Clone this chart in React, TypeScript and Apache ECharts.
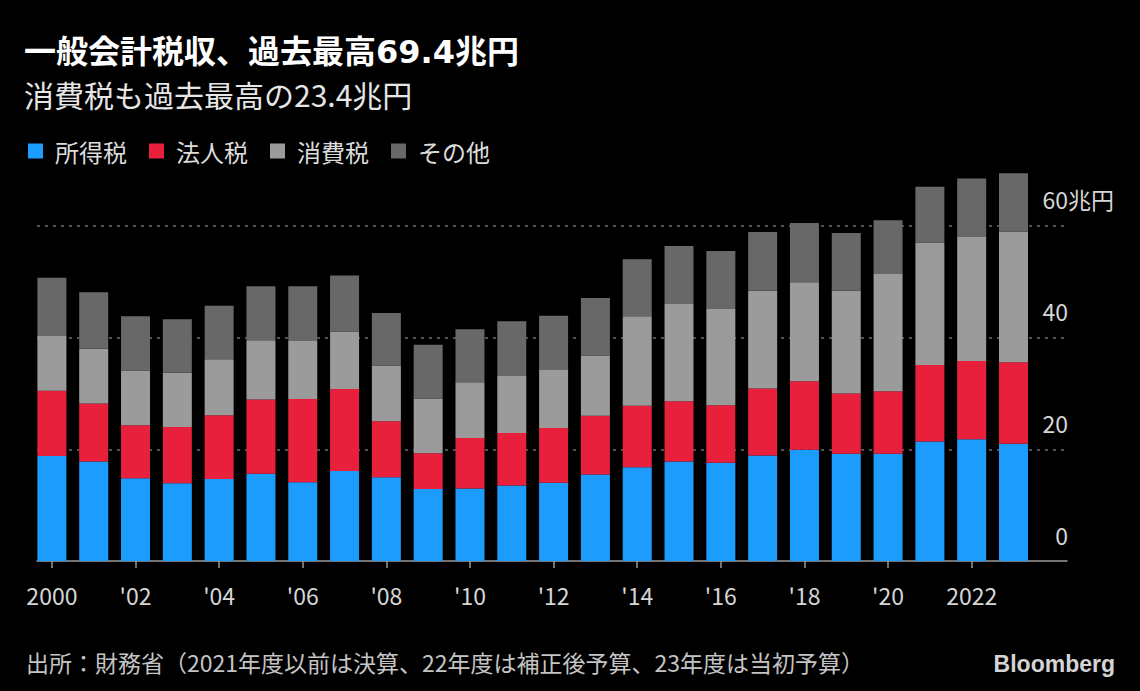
import React, { useEffect, useRef } from "react";
import * as echarts from "echarts";

const years = [
  "2000", "2001", "2002", "2003", "2004", "2005", "2006", "2007", "2008", "2009", "2010", "2011",
  "2012", "2013", "2014", "2015", "2016", "2017", "2018", "2019", "2020", "2021", "2022", "2023",
];
const incomeTax = [18.8, 17.8, 14.8, 13.9, 14.7, 15.6, 14.1, 16.1, 15.0, 12.9, 13.0, 13.5, 14.0, 15.5, 16.8, 17.8, 17.6, 18.9, 19.9, 19.2, 19.2, 21.4, 21.8, 21.0];
const corpTax = [11.7, 10.4, 9.5, 10.1, 11.4, 13.3, 14.9, 14.7, 10.0, 6.4, 9.0, 9.4, 9.8, 10.5, 11.0, 10.8, 10.3, 12.0, 12.3, 10.8, 11.2, 13.7, 14.0, 14.6];
const consumptionTax = [9.8, 9.8, 9.8, 9.7, 10.0, 10.6, 10.4, 10.3, 10.0, 9.8, 10.0, 10.2, 10.4, 10.8, 16.0, 17.4, 17.2, 17.5, 17.7, 18.4, 21.0, 21.9, 22.2, 23.4];
const otherTax = [10.4, 10.1, 9.7, 9.6, 9.6, 9.7, 9.8, 10.0, 9.4, 9.6, 9.5, 9.8, 9.7, 10.3, 10.2, 10.4, 10.4, 10.5, 10.6, 10.3, 9.6, 10.0, 10.5, 10.4];

const seriesNames = ["所得税", "法人税", "消費税", "その他"];
const seriesColors = ["#1c9cfd", "#e8203c", "#9b9b9b", "#686868"];

const tickYears = ["2000", "2002", "2004", "2006", "2008", "2010", "2012", "2014", "2016", "2018", "2020", "2022"];
const tickLabels = ["2000", "'02", "'04", "'06", "'08", "'10", "'12", "'14", "'16", "'18", "'20", "2022"];
const yUnitTick = 60;
const yUnit = "兆円";

const titleText = "一般会計税収、過去最高69.4兆円";
const subtitleText = "消費税も過去最高の23.4兆円";
const sourceText = "出所：財務省（2021年度以前は決算、22年度は補正後予算、23年度は当初予算）";

const CJK = "'Noto Sans CJK JP', 'Noto Sans', sans-serif";

export default function App() {
  const ref = useRef<HTMLDivElement>(null);

  useEffect(() => {
    document.body.style.margin = "0";
    document.body.style.background = "#000";
    const chart = echarts.init(ref.current as HTMLDivElement, null, { renderer: "svg" });
    const allSeries = [incomeTax, corpTax, consumptionTax, otherTax];

    const yLabelCommon = {
      inside: true,
      verticalAlign: "bottom",
      padding: [0, 0, 15, 0],
      showMaxLabel: false,
      color: "#d6d6d6",
      fontSize: 23,
      fontFamily: CJK,
    };
    const top = 170;
    const bottom = 130;

    chart.setOption({
      animation: false,
      backgroundColor: "#000",
      title: [
        {
          text: titleText,
          left: 24,
          top: 36,
          padding: 0,
          textStyle: { color: "#ffffff", fontSize: 32, fontWeight: "bold", fontFamily: "'DejaVu Sans', " + CJK },
        },
        {
          text: subtitleText,
          left: 24,
          top: 79,
          padding: 0,
          textStyle: { color: "#e6e6e6", fontSize: 30, fontWeight: "normal", fontFamily: CJK },
        },
      ],
      legend: {
        data: seriesNames,
        left: 28,
        top: 139,
        padding: 0,
        icon: "rect",
        itemWidth: 15,
        itemHeight: 15,
        itemGap: 22,
        selectedMode: false,
        textStyle: { color: "#dcdcdc", fontSize: 24, fontFamily: CJK, padding: [0, 0, 0, 7] },
      },
      grid: [
        { left: 31, right: 105.6, top, bottom, containLabel: false },
        { left: 37, right: 73, top, bottom, containLabel: false },
      ],
      xAxis: [
        {
          type: "category",
          gridIndex: 0,
          data: years,
          axisLine: { show: false },
          axisTick: { show: true, alignWithLabel: true, interval: 1, length: 7, lineStyle: { color: "#9a9a9a", width: 1.5 } },
          axisLabel: {
            interval: 1,
            formatter: (v: string) => {
              const k = tickYears.indexOf(v);
              return k >= 0 ? tickLabels[k] : "";
            },
            color: "#d6d6d6",
            fontSize: 23,
            margin: 22,
            fontFamily: CJK,
          },
          splitLine: { show: false },
        },
        {
          type: "value",
          gridIndex: 1,
          min: 0,
          max: 1,
          axisLine: { show: true, onZero: false, lineStyle: { color: "#9a9a9a", width: 1.5 } },
          axisTick: { show: false },
          axisLabel: { show: false },
          splitLine: { show: false },
        },
      ],
      yAxis: [
        {
          type: "value",
          gridIndex: 0,
          min: 0,
          max: 70,
          interval: 20,
          show: false,
          splitLine: { show: false },
        },
        {
          type: "value",
          gridIndex: 1,
          position: "right",
          min: 0,
          max: 70,
          interval: 20,
          axisLine: { show: false },
          axisTick: { show: false },
          splitLine: {
            show: true,
            showMinLine: false,
            showMaxLine: false,
            lineStyle: { color: "#6e6e6e", type: [3, 5], width: 1.5 },
          },
          axisLabel: { ...yLabelCommon, align: "right", margin: -1, formatter: (v: number) => String(v) },
        },
        {
          type: "value",
          gridIndex: 1,
          position: "right",
          min: 0,
          max: 70,
          interval: 20,
          axisLine: { show: false },
          axisTick: { show: false },
          splitLine: { show: false },
          axisLabel: {
            ...yLabelCommon,
            inside: false,
            align: "left",
            margin: 1,
            formatter: (v: number) => (v === yUnitTick ? yUnit : ""),
          },
        },
      ],
      series: allSeries.map((arr, k) => ({
        name: seriesNames[k],
        type: "bar",
        stack: "total",
        xAxisIndex: 0,
        yAxisIndex: 0,
        barWidth: 29,
        itemStyle: { color: seriesColors[k] },
        data: arr,
      })),
      graphic: [
        {
          type: "text",
          left: 26,
          top: 650,
          style: { text: sourceText, fill: "#c4c4c4", fontSize: 23, fontFamily: CJK },
        },
        {
          type: "text",
          right: 25,
          top: 652,
          style: {
            text: "Bloomberg",
            fill: "#d4d4d4",
            fontSize: 23,
            fontWeight: "bold",
            fontFamily: "'Liberation Sans', Arial, sans-serif",
          },
        },
      ],
    });
    return () => chart.dispose();
  }, []);

  return <div ref={ref} style={{ width: 1140, height: 691 }} />;
}
